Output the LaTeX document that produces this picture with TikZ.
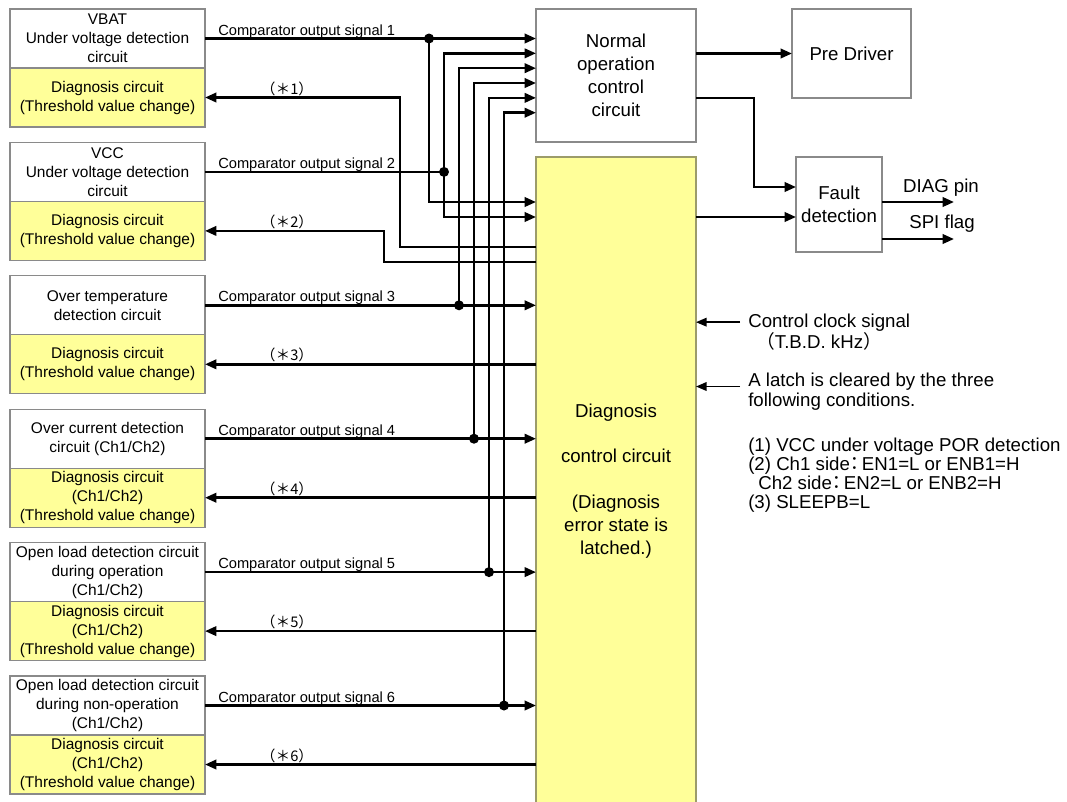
\documentclass[tikz,border=0pt]{standalone}
\usepackage{fontspec}
\setmainfont{Liberation Sans}
\newfontfamily\cjk{Noto Sans CJK JP}
\usetikzlibrary{arrows.meta,positioning,calc}
\usepackage{xcolor}
\definecolor{diagyellow}{HTML}{FFFF99}
\definecolor{boxgray}{HTML}{8A8A8A}
\definecolor{olivegray}{HTML}{9C9C6A}
\tikzset{
  detbox/.style={draw=boxgray, line width=0.8pt, fill=white, align=center, minimum width=146.25pt, minimum height=44.25pt, inner sep=0pt, outer sep=0pt, font=\fontsize{11.6}{14.25}\selectfont},
  diagbox/.style={detbox, fill=diagyellow},
  ctrlbox/.style={draw=boxgray, line width=0.8pt, fill=white, align=center, inner sep=0pt, outer sep=0pt, font=\fontsize{14}{17.25}\selectfont},
  ctrlyellow/.style={ctrlbox, draw=olivegray, fill=diagyellow},
  wire/.style={line width=1.9pt},
  arrow/.style={wire, -{Triangle[length=8.5pt, width=7pt]}},
  thinarrow/.style={line width=1.2pt, -{Triangle[length=8pt, width=6.5pt]}},
  junction/.style={circle, fill=black, inner sep=0pt, minimum size=7.5pt},
  siglabel/.style={font=\fontsize{11}{13}\selectfont, inner sep=0pt},
  sidenote/.style={font=\fontsize{14}{16}\selectfont, inner sep=0pt}
}
\newcommand{\widecolon}{\kern-3pt{\cjk ：}\kern-2pt}

\begin{document}
\begin{tikzpicture}[x=0.75pt, y=-0.75pt]
  \useasboundingbox (0,0) rectangle (1067,801);
  % detection circuits with their diagnosis circuits
  \node[detbox, anchor=north west] (det1) at (10,9) {VBAT\\Under voltage detection\\circuit};
  \node[diagbox, below=0pt of det1] (diag1) {Diagnosis circuit\\(Threshold value change)};
  \node[detbox, anchor=north west] (det2) at (10,142.4) {VCC\\Under voltage detection\\circuit};
  \node[diagbox, below=0pt of det2] (diag2) {Diagnosis circuit\\(Threshold value change)};
  \node[detbox, anchor=north west] (det3) at (10,275.8) {Over temperature\\detection circuit};
  \node[diagbox, below=0pt of det3] (diag3) {Diagnosis circuit\\(Threshold value change)};
  \node[detbox, anchor=north west] (det4) at (10,409.2) {Over current detection\\circuit (Ch1/Ch2)};
  \node[diagbox, below=0pt of det4] (diag4) {Diagnosis circuit\\(Ch1/Ch2)\\(Threshold value change)};
  \node[detbox, anchor=north west] (det5) at (10,542.6) {Open load detection circuit\\during operation\\(Ch1/Ch2)};
  \node[diagbox, below=0pt of det5] (diag5) {Diagnosis circuit\\(Ch1/Ch2)\\(Threshold value change)};
  \node[detbox, anchor=north west] (det6) at (10,676) {Open load detection circuit\\during non-operation\\(Ch1/Ch2)};
  \node[diagbox, below=0pt of det6] (diag6) {Diagnosis circuit\\(Ch1/Ch2)\\(Threshold value change)};

  % control blocks
  \node[ctrlbox, minimum width=120pt, minimum height=99.75pt, anchor=north west] (normal) at (536,9) {Normal\\operation\\control\\circuit};
  \node[ctrlyellow, minimum width=120pt, minimum height=486pt, anchor=north west] (diagctl) at (536,157) {Diagnosis\\[17pt]control circuit\\[17pt](Diagnosis\\error state is\\latched.)};
  \node[ctrlbox, minimum width=89.25pt, minimum height=66.75pt, anchor=north west] (predrv) at (792,9) {Pre Driver};
  \node[ctrlbox, minimum width=64.5pt, minimum height=71.25pt, anchor=north west] (fault) at (796,157) {Fault\\detection};

  % bus columns and input points
  \foreach \i/\x in {1/429,2/444,3/459,4/474,5/489,6/504}
    \coordinate (bus\i) at (\x,0);
  \foreach \i in {1,...,6}
    \coordinate (nin\i) at (536,{38.5+14.84*(\i-1)});
  \coordinate (in1) at (536,202);
  \coordinate (in2) at (536,217);
  \coordinate (ret1) at (536,247);
  \coordinate (ret2) at (536,262);
  \coordinate (rbus1) at (400,0);
  \coordinate (rbus2) at (384,0);

  % comparator output signals
  \draw[arrow] (det1.east) -- (nin1);
  \node[junction] (j1) at (det1.east -| bus1) {};
  \draw[arrow] (j1.center) |- (in1);
  \draw[wire] (det2.east) -- (det2.east -| bus2);
  \node[junction] (j2) at (det2.east -| bus2) {};
  \draw[arrow] (j2.center) |- (nin2);
  \draw[arrow] (j2.center) |- (in2);
  \foreach \i in {3,...,6} {
    \draw[arrow] (det\i.east) -- (det\i.east -| diagctl.west);
    \node[junction] (j\i) at (det\i.east -| bus\i) {};
    \draw[arrow] (j\i.center) |- (nin\i);
  }
  \foreach \i in {1,...,6}
    \node[siglabel, anchor=base west] (sig\i) at ([shift={(13,-3.5)}]det\i.east) {Comparator output signal \i};

  % threshold change requests
  \draw[arrow] (ret1) -| (diag1.east -| rbus1) -- (diag1.east);
  \draw[arrow] (ret2) -| (diag2.east -| rbus2) -- (diag2.east);
  \foreach \i in {3,...,6}
    \draw[arrow] (diag\i.east -| diagctl.west) -- (diag\i.east);
  \foreach \i in {1,...,6}
    \node[siglabel, anchor=base] (req\i) at ([shift={(82,-3.5)}]diag\i.east) {\cjk （＊\i）};

  % outputs
  \draw[arrow] (normal.east |- predrv.west) -- (predrv.west);
  \coordinate (nout) at (normal.east |- nin5);
  \coordinate (fbend) at (754,0);
  \coordinate (fin1) at ([shift={(0,-17.5)}]fault.west);
  \coordinate (fin2) at ([shift={(0,12.5)}]fault.west);
  \draw[arrow] (nout) -- (nout -| fbend) |- (fin1);
  \draw[arrow] (fin2 -| diagctl.east) -- (fin2);
  \coordinate (diagpin) at (954,202);
  \coordinate (spiflag) at (954,239);
  \draw[arrow] (fault.east |- diagpin) -- (diagpin);
  \draw[arrow] (fault.east |- spiflag) -- (spiflag);
  \node[sidenote, anchor=base] (diaglab) at (941,192) {DIAG pin};
  \node[sidenote, anchor=base] (spilab) at (942,228) {SPI flag};

  % clock and latch clear conditions
  \node[sidenote, anchor=base west] (clk) at (748,327) {Control clock signal};
  \node[sidenote, anchor=base west] (tbd) at (756,348) {{\cjk （}T.B.D. kHz{\cjk ）}};
  \draw[thinarrow] ([xshift=-6pt]clk.west) -- (clk.west -| diagctl.east);
  \node[sidenote, anchor=base west] (latch1) at (748,386.5) {A latch is cleared by the three};
  \node[sidenote, anchor=base west] (latch2) at (748,406.5) {following conditions.};
  \draw[thinarrow] ([xshift=-6pt]latch1.base west) -- (latch1.base west -| diagctl.east);
  \node[sidenote, anchor=base west] (cond1) at (748,451) {(1) VCC under voltage POR detection};
  \node[sidenote, anchor=base west] (cond2) at (748,470) {(2) Ch1 side\widecolon EN1=L or ENB1=H};
  \node[sidenote, anchor=base west] (cond3) at (748,489) {\hspace*{7.5pt}Ch2 side\widecolon EN2=L or ENB2=H};
  \node[sidenote, anchor=base west] (cond4) at (748,508) {(3) SLEEPB=L};
\end{tikzpicture}
\end{document}
